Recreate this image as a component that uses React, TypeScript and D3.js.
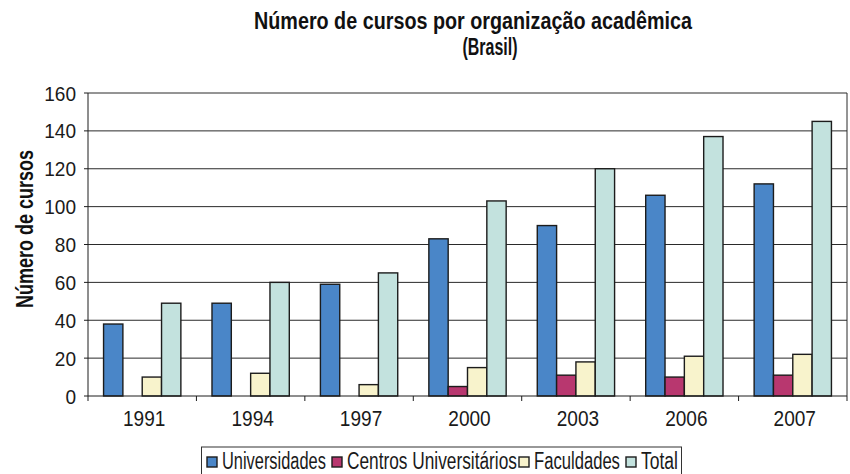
import React, { useEffect, useRef } from 'react';
import { select, scaleBand, scaleLinear } from 'd3';

// dados
const years = ['1991', '1994', '1997', '2000', '2003', '2006', '2007'];
const universidades = [38, 49, 59, 83, 90, 106, 112];
const centros = [0, 0, 0, 5, 11, 10, 11];
const faculdades = [10, 12, 6, 15, 18, 21, 22];
const total = [49, 60, 65, 103, 120, 137, 145];
const seriesNames = ['Universidades', 'Centros Universitários', 'Faculdades', 'Total'];
const yTicks = [0, 20, 40, 60, 80, 100, 120, 140, 160];
const titleLines = ['Número de cursos por organização acadêmica', '(Brasil)'];

const colors = ['#4a86c8', '#b8376f', '#f8f3cc', '#c3e2de'];
const legendTextWidths = [104, 170, 86, 37];

// Helvetica Condensed is not available: squeeze Liberation Sans with textLength
const FONT = "'Liberation Sans', Arial, sans-serif";
const DIGIT_W = 10.6;

function App() {
  const svgRef = useRef<SVGSVGElement>(null);

  useEffect(() => {
    const svg = select(svgRef.current);
    svg.selectAll('*').remove();

    const width = 850;
    const height = 474;
    const margin = { left: 88, right: 3, top: 93, bottom: 78 };
    const x1 = margin.left;
    const x2 = width - margin.right;
    const yBottom = height - margin.bottom;

    const values = [universidades, centros, faculdades, total];

    // scales
    const xScale = scaleBand<string>()
      .domain(years)
      .range([x1, x2])
      .paddingInner(0.287)
      .paddingOuter(0.1435);

    const xSeries = scaleBand<number>()
      .domain([0, 1, 2, 3])
      .range([0, xScale.bandwidth()])
      .padding(0);

    const yScale = scaleLinear().domain([0, 160]).range([yBottom, margin.top]);

    // grid lines
    svg.append('g')
      .selectAll('line')
      .data(yTicks.slice(1))
      .join('line')
      .attr('x1', x1)
      .attr('x2', x2)
      .attr('y1', (d) => yScale(d))
      .attr('y2', (d) => yScale(d))
      .attr('stroke', '#2a2a2a')
      .attr('stroke-width', 1);

    // right border
    svg.append('line')
      .attr('x1', x2).attr('x2', x2)
      .attr('y1', margin.top).attr('y2', yBottom)
      .attr('stroke', '#2a2a2a');

    // bars
    const groups = svg.append('g')
      .selectAll('g')
      .data(years)
      .join('g')
      .attr('transform', (d) => `translate(${xScale(d)},0)`);

    groups.selectAll('rect')
      .data((d, i) => values.map((s, k) => ({ k, v: s[i] })).filter((e) => e.v > 0))
      .join('rect')
      .attr('x', (d) => xSeries(d.k) as number)
      .attr('y', (d) => yScale(d.v))
      .attr('width', xSeries.bandwidth())
      .attr('height', (d) => yBottom - yScale(d.v))
      .attr('fill', (d) => colors[d.k])
      .attr('stroke', '#1c1c1c')
      .attr('stroke-width', 1.4);

    // y axis
    const yAxis = svg.append('g');
    yAxis.append('line')
      .attr('x1', x1).attr('x2', x1)
      .attr('y1', margin.top).attr('y2', yBottom)
      .attr('stroke', '#1c1c1c');
    yAxis.selectAll('line.tick')
      .data(yTicks)
      .join('line')
      .attr('class', 'tick')
      .attr('x1', x1 - 4).attr('x2', x1)
      .attr('y1', (d) => yScale(d)).attr('y2', (d) => yScale(d))
      .attr('stroke', '#1c1c1c');
    yAxis.selectAll('text')
      .data(yTicks)
      .join('text')
      .attr('x', x1 - 12)
      .attr('y', (d) => yScale(d) + 7.5)
      .attr('text-anchor', 'end')
      .attr('textLength', (d) => String(d).length * DIGIT_W)
      .attr('lengthAdjust', 'spacingAndGlyphs')
      .style('font-family', FONT)
      .style('font-size', '21px')
      .attr('fill', '#1a1a1a')
      .text((d) => d);

    // x axis
    const xAxis = svg.append('g');
    xAxis.append('line')
      .attr('x1', x1).attr('x2', x2)
      .attr('y1', yBottom).attr('y2', yBottom)
      .attr('stroke', '#1c1c1c');
    const step = xScale.step();
    xAxis.selectAll('line.tick')
      .data([...years.map((y) => (xScale(y) as number) - (step - xScale.bandwidth()) / 2), x2])
      .join('line')
      .attr('class', 'tick')
      .attr('x1', (d) => d).attr('x2', (d) => d)
      .attr('y1', yBottom).attr('y2', yBottom + 5)
      .attr('stroke', '#1c1c1c');
    xAxis.selectAll('text')
      .data(years)
      .join('text')
      .attr('x', (d) => (xScale(d) as number) + xScale.bandwidth() / 2 + 2)
      .attr('y', yBottom + 30)
      .attr('text-anchor', 'middle')
      .attr('textLength', (d) => d.length * DIGIT_W)
      .attr('lengthAdjust', 'spacingAndGlyphs')
      .style('font-family', FONT)
      .style('font-size', '21.5px')
      .attr('fill', '#1a1a1a')
      .text((d) => d);

    // y title
    svg.append('text')
      .attr('transform', 'translate(33,229) rotate(-90)')
      .attr('text-anchor', 'middle')
      .attr('textLength', 158)
      .attr('lengthAdjust', 'spacingAndGlyphs')
      .style('font-family', FONT)
      .style('font-size', '23px')
      .style('font-weight', 'bold')
      .attr('fill', '#111')
      .text('Número de cursos');

    // title, two lines in one text element
    const title = svg.append('text')
      .attr('text-anchor', 'middle')
      .style('font-family', FONT)
      .style('font-size', '23px')
      .style('font-weight', 'bold')
      .attr('fill', '#111');
    title.append('tspan')
      .attr('x', 473).attr('y', 29)
      .attr('textLength', 438)
      .attr('lengthAdjust', 'spacingAndGlyphs')
      .text(titleLines[0]);
    title.append('tspan')
      .attr('x', 490).attr('y', 55)
      .attr('textLength', 55)
      .attr('lengthAdjust', 'spacingAndGlyphs')
      .text(titleLines[1]);

    // legend: natural-width text, stretched vertically to look condensed
    const legend = svg.append('g');
    legend.append('rect')
      .attr('x', 201.5).attr('y', 447)
      .attr('width', 480).attr('height', 40)
      .attr('fill', 'white')
      .attr('stroke', '#333')
      .attr('stroke-width', 1);
    const capTarget = 17.5;
    let cx = 207;
    seriesNames.forEach((name, k) => {
      legend.append('rect')
        .attr('x', cx).attr('y', 457)
        .attr('width', 10).attr('height', 10)
        .attr('fill', colors[k])
        .attr('stroke', '#1c1c1c')
        .attr('stroke-width', 1.4);
      const t = legend.append('text')
        .style('font-family', FONT)
        .style('font-size', '10px')
        .attr('fill', '#1a1a1a')
        .text(name);
      const w10 = (t.node() as SVGTextElement).getComputedTextLength() || legendTextWidths[k];
      const fs = (10 * legendTextWidths[k]) / w10;
      const sy = capTarget / (0.716 * fs);
      t.style('font-size', `${fs}px`)
        .attr('transform', `translate(${cx + 15},469) scale(1,${sy})`);
      cx += 15 + legendTextWidths[k] + (k === 1 ? 2 : 6);
    });
  }, []);

  return (
    <svg
      ref={svgRef}
      width={850}
      height={474}
      style={{ position: 'absolute', left: 0, top: 0, background: 'white' }}
    />
  );
}

export default App;
